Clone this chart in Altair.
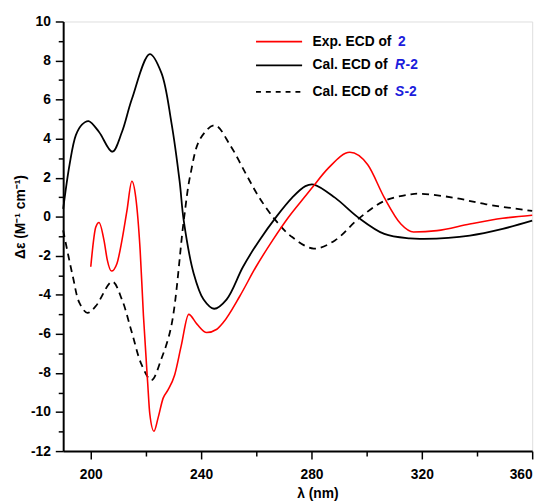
import altair as alt
import pandas as pd

# ---- data ----
exp_nm = [200, 201.8, 203, 204.8, 206, 207.5, 209.5, 211.3, 213.1, 214.9, 216.3, 217.9, 219.1,
          220.6, 221.4, 222.9, 224.4, 226.2, 228, 230.4, 232.8, 235.5, 238.5, 242, 245.7, 248,
          254, 259.9, 265.9, 271.8, 277.8, 280.2, 286.1, 293.9, 300.4, 306.4, 312.4, 317,
          325.5, 337.4, 349.3, 360]
exp_de = [-2.56, -0.54, -0.29, -1.21, -2.22, -2.78, -2.39, -1.21, 0.3, 1.82, 1.0, -1.72, -5.08,
          -8.45, -10.1, -10.98, -10.3, -9.3, -8.87, -8.1, -6.6, -5.0, -5.5, -5.93, -5.76, -5.42,
          -4.07, -2.56, -1.21, 0.0, 1.06, 1.48, 2.49, 3.3, 2.66, 0.98, -0.37, -0.78,
          -0.71, -0.37, -0.08, 0.08]

r_nm = [190, 192.3, 194.6, 196.8, 199.2, 203, 207.8, 211.3, 214.9, 221.4, 225.6, 229.2, 232.2, 233.7,
        237.3, 240.9, 244.7, 249.2, 255.2, 261.1, 267.1, 273, 277.8, 280.8, 288.5, 296.9,
        306.4, 315.7, 320.7, 337.4, 349.3, 360]
r_de = [0.4, 2.66, 4.18, 4.72, 4.9, 4.34, 3.33, 4.34, 6.03, 8.33, 7.37, 4.85, 1.82, -0.2,
        -2.9, -4.24, -4.71, -4.24, -2.56, -1.21, -0.03, 0.98, 1.57, 1.65, 0.98, -0.03,
        -0.88, -1.11, -1.13, -0.96, -0.62, -0.2]

s_nm = [190, 193.5, 195.9, 198.8, 201.8, 207.8, 211.3, 214.9, 218.5, 222, 225.6, 229.2, 233.7,
        236.1, 239.7, 245, 250.5, 256.4, 261.1, 267.1, 273, 280.8, 288.5, 296.9, 306.4,
        316, 319.5, 331.4, 343.3, 360]
s_de = [-0.7, -3.06, -4.41, -4.92, -4.58, -3.32, -4.24, -5.93, -7.6, -8.37, -7.27, -5.59, -0.2,
        2.15, 4.0, 4.68, 3.67, 2.15, 0.98, -0.2, -1.04, -1.63, -1.21, -0.12, 0.81,
        1.15, 1.18, 0.98, 0.64, 0.3]

x_ticks = list(range(200, 361, 20))
y_ticks = list(range(-12, 11, 1))

legend_rows = ["Exp. ECD of", "Cal. ECD of", "Cal. ECD of"]
legend_y = [8.97, 7.75, 6.40]
legend_line_x = [259.9, 276.6]
legend_text_x = 280.4

FONT = "Liberation Sans"
BLUE = "#1c1cdc"

exp_df = pd.DataFrame({"nm": exp_nm, "de": exp_de})
r_df = pd.DataFrame({"nm": r_nm, "de": r_de})
s_df = pd.DataFrame({"nm": s_nm, "de": s_de})

xscale = alt.Scale(domain=[190, 360], nice=False, zero=False)
yscale = alt.Scale(domain=[-12, 10], nice=False, zero=False)

common_axis = dict(
    grid=False, domainColor="black", domainWidth=2, tickColor="black", tickWidth=1.5,
    labelFont=FONT, labelFontWeight="bold", labelFontSize=14, labelColor="black",
    titleFont=FONT, titleFontWeight="bold", titleFontSize=14, titleColor="black",
)
xaxis = alt.Axis(
    values=x_ticks,
    labelExpr="datum.value % 40 === 0 ? '' + datum.value : ''",
    tickSize={"condition": {"test": "datum.value % 40 === 0", "value": 8}, "value": 5},
    labelPadding=9, title="λ (nm)", titleX=258, titleY=36, titleBaseline="top",
    titleAlign="center", **common_axis,
)
yaxis = alt.Axis(
    values=y_ticks,
    labelExpr="datum.value % 2 === 0 ? '' + datum.value : ''",
    tickSize={"condition": {"test": "datum.value % 2 === 0", "value": 8}, "value": 5},
    labelPadding=5, title="Δε (M⁻¹ cm⁻¹)", titleX=-36, titleY=198, titleAlign="center",
    titleAngle=270, **common_axis,
)

X = alt.X("nm:Q", scale=xscale, axis=xaxis)
Y = alt.Y("de:Q", scale=yscale, axis=yaxis)

exp_line = alt.Chart(exp_df).mark_line(color="#ff0000", strokeWidth=1.6, interpolate="monotone").encode(x=X, y=Y)
r_line = alt.Chart(r_df).mark_line(color="#000000", strokeWidth=1.8, interpolate="catmull-rom").encode(x=X, y=Y)
s_line = alt.Chart(s_df).mark_line(color="#000000", strokeWidth=1.8, strokeDash=[7, 5], interpolate="catmull-rom").encode(x=X, y=Y)

# legend
def leg_rule(i, color, dash=None):
    df = pd.DataFrame({"nm": [legend_line_x[0]], "nm2": [legend_line_x[1]], "de": [legend_y[i]]})
    kw = dict(color=color, strokeWidth=1.8)
    if dash:
        kw["strokeDash"] = dash
    return alt.Chart(df).mark_rule(**kw).encode(x=X, x2="nm2:Q", y=Y)

def leg_text(x, i, txt, color, italic=False):
    df = pd.DataFrame({"nm": [x], "de": [legend_y[i]], "t": [txt]})
    return alt.Chart(df).mark_text(
        align="left", baseline="middle", font=FONT, fontSize=14, fontWeight="bold",
        fontStyle="italic" if italic else "normal", color=color,
    ).encode(x=X, y=Y, text="t:N")

layers = [
    s_line, r_line, exp_line,
    leg_rule(0, "#ff0000"), leg_rule(1, "#000000"), leg_rule(2, "#000000", [5, 5]),
    leg_text(legend_text_x, 0, legend_rows[0], "black"),
    leg_text(311.4, 0, "2", BLUE),
    leg_text(legend_text_x, 1, legend_rows[1], "black"),
    leg_text(310.3, 1, "R", BLUE, italic=True),
    leg_text(314.1, 1, "-2", BLUE),
    leg_text(legend_text_x, 2, legend_rows[2], "black"),
    leg_text(310.3, 2, "S", BLUE, italic=True),
    leg_text(313.7, 2, "-2", BLUE),
]

chart = alt.layer(*layers).properties(
    width=476, height=436,
    autosize=alt.AutoSizeParams(type="none"),
    padding={"left": 56, "top": 10, "right": 13, "bottom": 50},
).configure_view(stroke=None).configure(background="white")

chart.save("out.html", embed_options={"renderer": "svg", "actions": False})
